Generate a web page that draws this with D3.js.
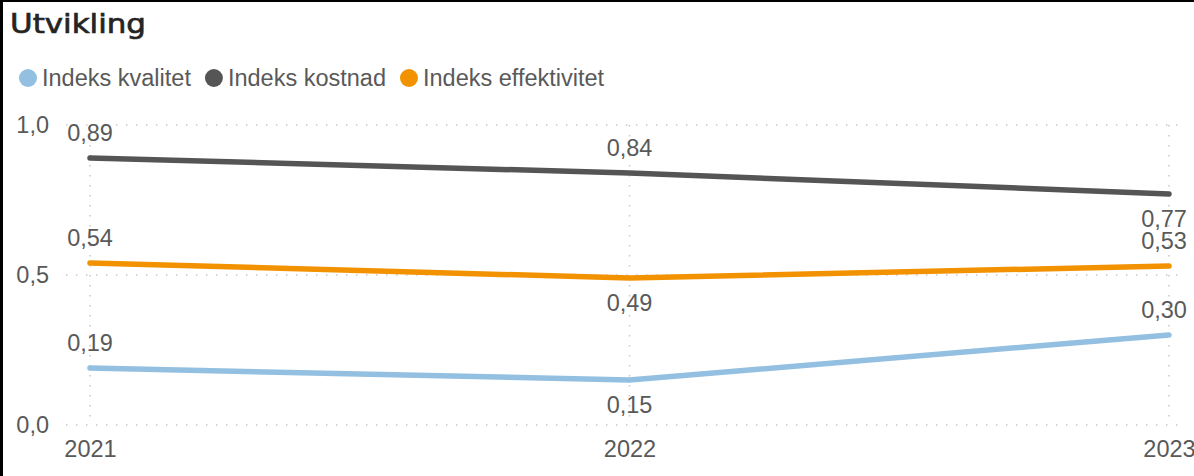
<!DOCTYPE html>
<html><head><meta charset="utf-8">
<script src="https://cdn.jsdelivr.net/npm/d3@7"></script>
<style>
html,body{margin:0;padding:0;background:#fff;overflow:hidden;}
svg{display:block;}
</style></head>
<body>
<svg id="chart" width="1194" height="476"></svg>
<script>
const title = "Utvikling";
const years = ["2021", "2022", "2023"];
const seriesNames = ["Indeks kvalitet", "Indeks kostnad", "Indeks effektivitet"];
const kvalitet = [0.19, 0.15, 0.30];
const kostnad = [0.89, 0.84, 0.77];
const effektivitet = [0.54, 0.49, 0.53];
const yTicks = [0, 0.5, 1.0];
const colors = ["#93BFE1", "#555555", "#F29200"];
// label placement per series/point: -1 above, 1 below
const kvalitetLabelPos = [-1, 1, -1];
const kostnadLabelPos = [-1, -1, 1];
const effektivitetLabelPos = [-1, 1, -1];

const series = [
  {name: seriesNames[0], values: kvalitet, pos: kvalitetLabelPos, color: colors[0]},
  {name: seriesNames[1], values: kostnad, pos: kostnadLabelPos, color: colors[1]},
  {name: seriesNames[2], values: effektivitet, pos: effektivitetLabelPos, color: colors[2]}
];

const svg = d3.select("#chart");
const W = 1194, H = 476;
const fmt = v => d3.format(".2f")(v).replace(".", ",");
const fmtTick = v => d3.format(".1f")(v).replace(".", ",");
const font = "'Liberation Sans', Arial, sans-serif";
const fs = 23.5;

// frame
svg.append("rect").attr("x", 0).attr("y", 0).attr("width", W).attr("height", 2).attr("fill", "#000");
svg.append("rect").attr("x", 0).attr("y", 0).attr("width", 3).attr("height", H).attr("fill", "#000");

// title
svg.append("text").attr("x", 10).attr("y", 33).text(title)
  .attr("font-family", "'DejaVu Sans', sans-serif").attr("font-size", 27)
  .attr("textLength", 136).attr("lengthAdjust", "spacingAndGlyphs")
  .attr("fill", "#252423").attr("stroke", "#252423").attr("stroke-width", 0.7);

// legend
let lx = 28;
const legend = svg.append("g");
series.forEach(s => {
  legend.append("circle").attr("cx", lx).attr("cy", 78).attr("r", 9).attr("fill", s.color);
  const t = legend.append("text").attr("x", lx + 14).attr("y", 86).text(s.name)
    .attr("font-family", font).attr("font-size", fs).attr("fill", "#595959");
  lx += 14 + t.node().getComputedTextLength() + 23;
});

const x = d3.scalePoint().domain(years).range([90, 1169]);
const y = d3.scaleLinear().domain([0, 1]).range([425, 125]);

// gridlines
const grid = svg.append("g");
yTicks.forEach(t => {
  grid.append("line").attr("x1", 66).attr("x2", 1182).attr("y1", y(t)).attr("y2", y(t))
    .attr("stroke", "#c8c8c8").attr("stroke-width", 1.5).attr("stroke-dasharray", "1.5,8.5");
});
years.forEach(yr => {
  grid.append("line").attr("x1", x(yr)).attr("x2", x(yr)).attr("y1", y(1)).attr("y2", y(0))
    .attr("stroke", "#c8c8c8").attr("stroke-width", 1.5).attr("stroke-dasharray", "1.5,8.5");
});

// y axis
const yAxis = d3.axisLeft(y).tickValues(yTicks).tickFormat(fmtTick).tickSize(0).tickPadding(0);
const yg = svg.append("g").attr("transform", "translate(49,0)").call(yAxis);
yg.select(".domain").remove();
yg.selectAll("text").attr("font-family", font).attr("font-size", fs).attr("fill", "#595959");

// x axis
const xAxis = d3.axisBottom(x).tickSize(0).tickPadding(0);
const xg = svg.append("g").attr("transform", "translate(0,0)").call(xAxis);
xg.select(".domain").remove();
xg.selectAll("text").attr("font-family", font).attr("font-size", fs).attr("fill", "#595959")
  .attr("y", 457).attr("dy", null);

// lines
const line = d3.line().x((d, i) => x(years[i])).y(d => y(d));
series.forEach(s => {
  svg.append("path").datum(s.values).attr("d", line).attr("fill", "none")
    .attr("stroke", s.color).attr("stroke-width", 5.5).attr("stroke-linecap", "round").attr("stroke-linejoin", "round");
});

// data labels
series.forEach(s => {
  s.values.forEach((v, i) => {
    const px = x(years[i]);
    const py = y(v) + s.pos[i] * 25;
    let tx = px;
    if (i === years.length - 1) { tx = px - 5; }
    svg.append("text").attr("x", tx).attr("y", py).attr("dy", "0.35em")
      .attr("text-anchor", "middle").text(fmt(v))
      .attr("font-family", font).attr("font-size", fs).attr("fill", "#595959");
  });
});
</script>
</body></html>
